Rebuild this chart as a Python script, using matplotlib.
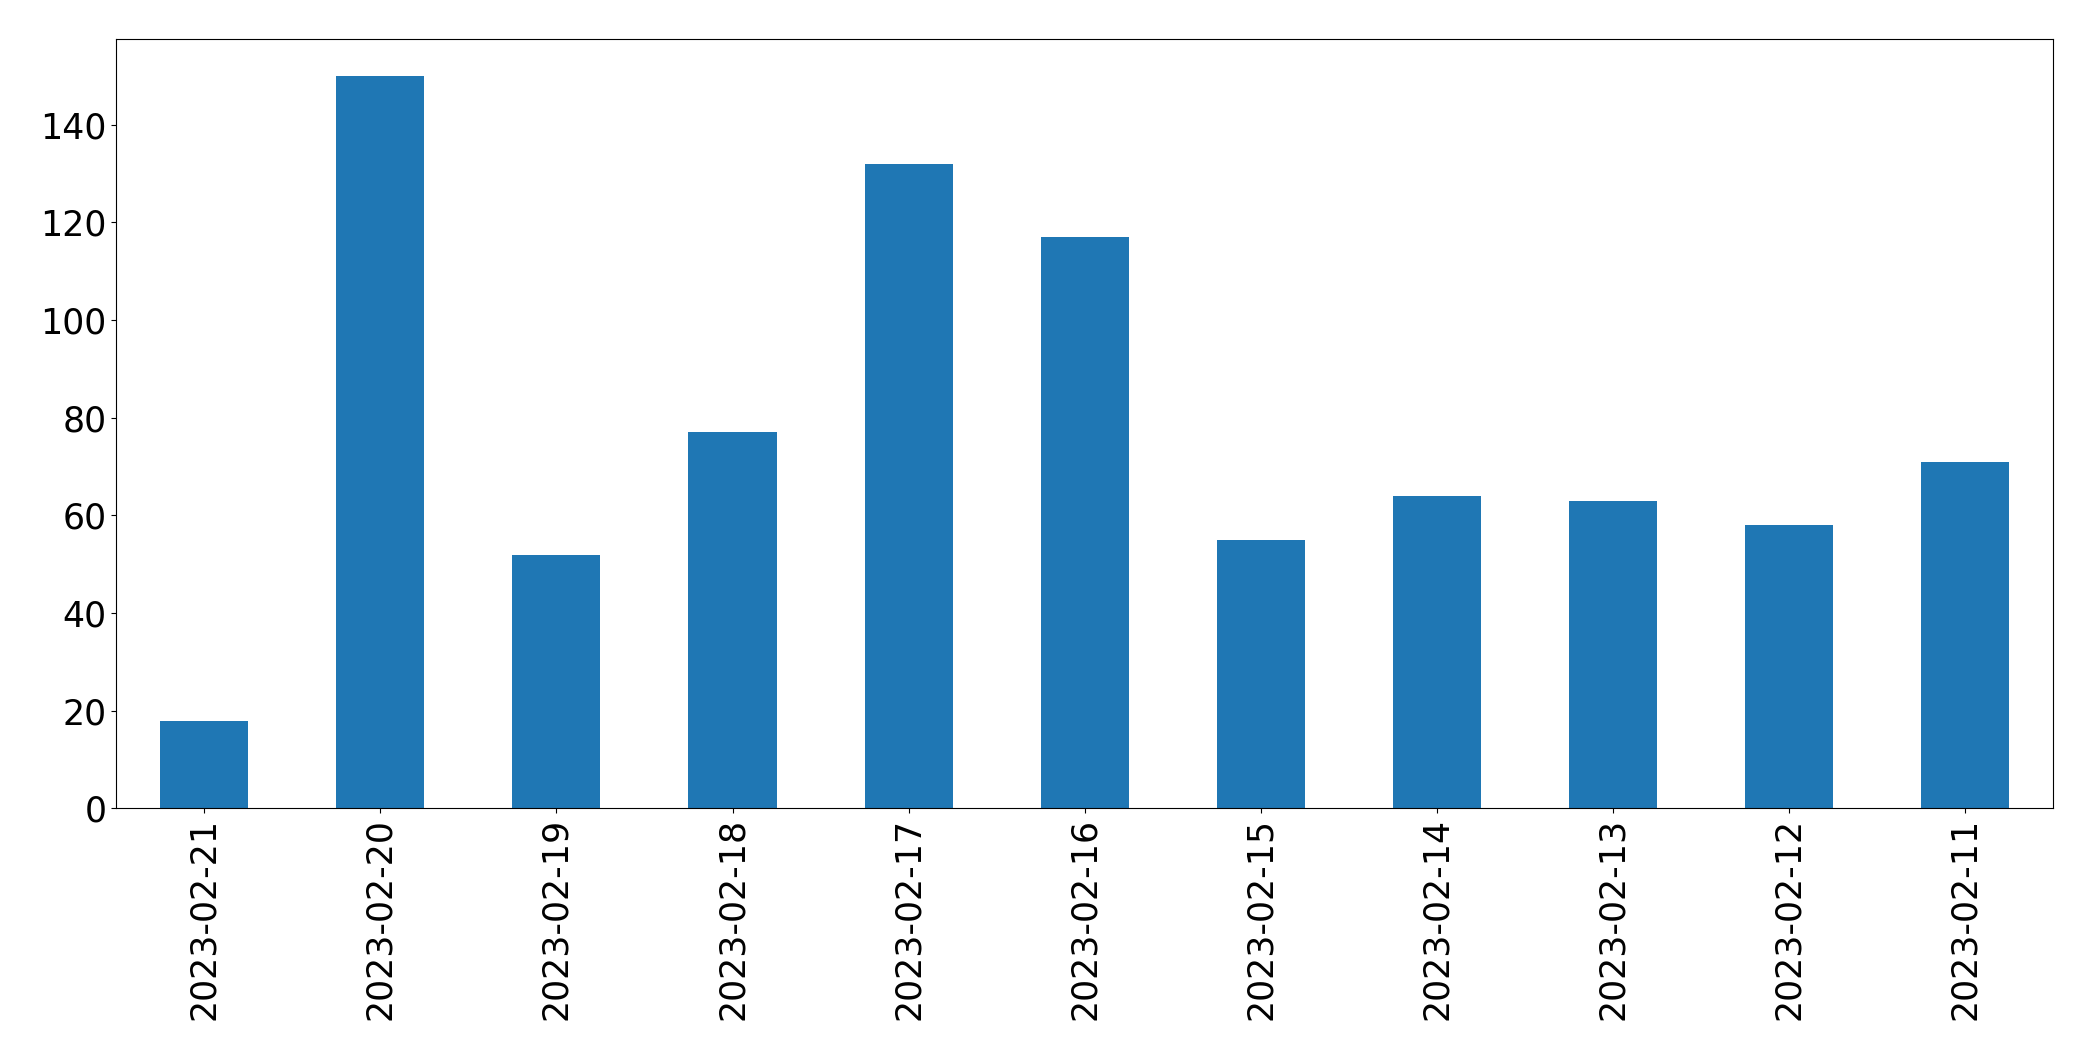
import matplotlib
matplotlib.use("Agg")
import matplotlib.pyplot as plt
import pandas as pd

dates = ["2023-02-21", "2023-02-20", "2023-02-19", "2023-02-18", "2023-02-17",
         "2023-02-16", "2023-02-15", "2023-02-14", "2023-02-13", "2023-02-12",
         "2023-02-11"]
counts = [18, 150, 52, 77, 132, 117, 55, 64, 63, 58, 71]

s = pd.Series(counts, index=dates)

fig, ax = plt.subplots(figsize=(20.93, 10.61), dpi=100)
plt.subplots_adjust(left=0.0555, right=0.981, top=0.963, bottom=0.238)
s.plot(kind="bar", ax=ax, color="#1f77b4")
ax.tick_params(axis="both", labelsize=25)
ax.set_ylim(0, 157.5)

fig.savefig("out.png", dpi=100)
